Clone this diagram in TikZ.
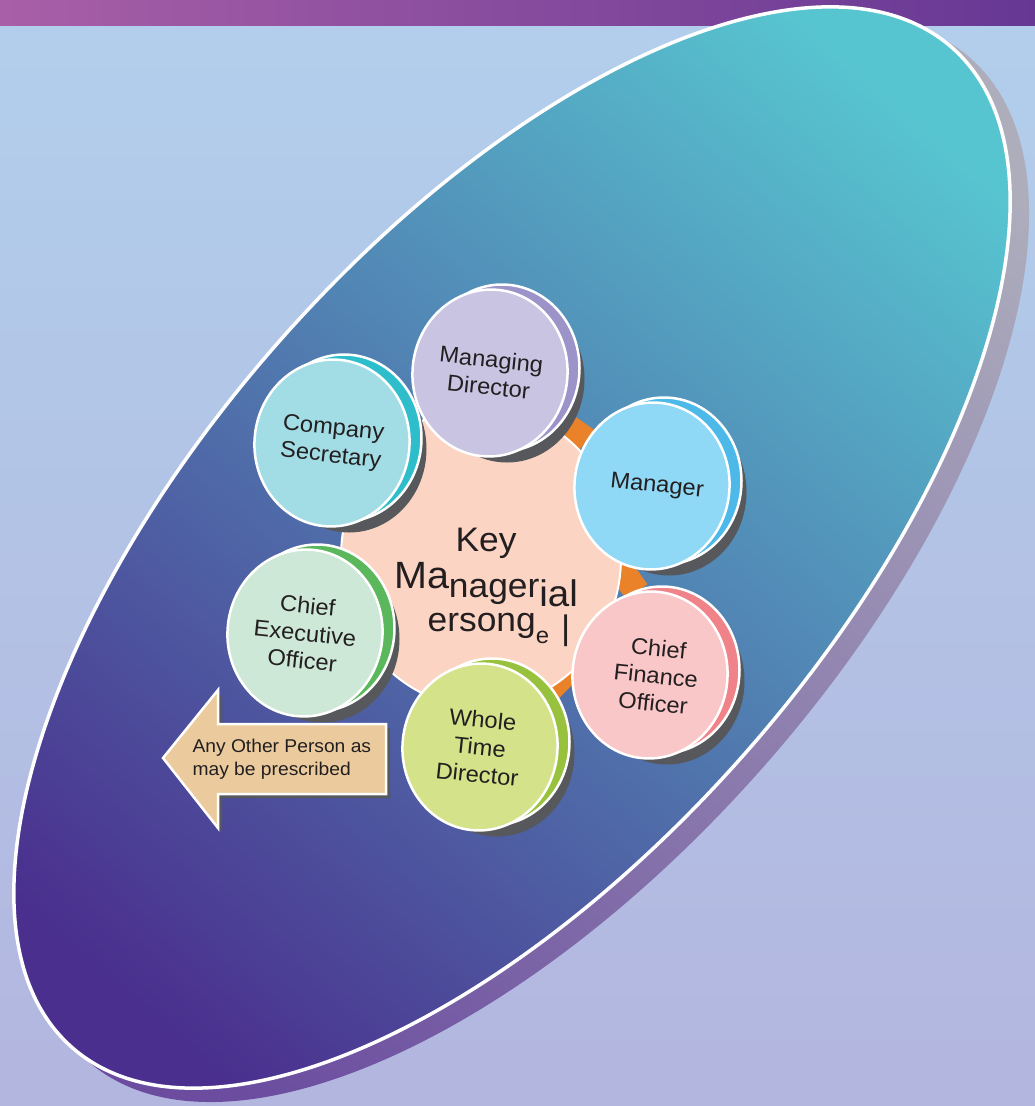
\documentclass[tikz,border=0pt]{standalone}
\usepackage{fontspec}
\setmainfont{Liberation Sans}[FakeStretch=1.04]
\usetikzlibrary{shapes.geometric}
\pgfdeclarelayer{back}
\pgfdeclarelayer{links}
\pgfdeclarelayer{hubl}
\pgfsetlayers{back,links,hubl,main}
\definecolor{bgtop}{HTML}{B2CFEC}
\definecolor{bgbot}{HTML}{B3B6DF}
\definecolor{barleft}{HTML}{A85FA7}
\definecolor{barright}{HTML}{663894}
\definecolor{disctop}{HTML}{57C5D0}
\definecolor{discmid}{HTML}{4F7CB4}
\definecolor{discbot}{HTML}{4A2F8E}
\definecolor{rimtop}{HTML}{ADADBC}
\definecolor{rimbot}{HTML}{6B4C9F}
\definecolor{ink}{HTML}{231F20}
\definecolor{ballgrey}{HTML}{56585B}
\definecolor{linkorange}{HTML}{E98228}
\definecolor{hubpink}{HTML}{FCD4C3}
\definecolor{mdfill}{HTML}{C8C4E2}
\definecolor{mdrim}{HTML}{9C93C9}
\definecolor{csfill}{HTML}{A2DCE5}
\definecolor{csrim}{HTML}{2DBDCB}
\definecolor{mgrfill}{HTML}{8FD8F6}
\definecolor{mgrrim}{HTML}{4DB9E8}
\definecolor{ceofill}{HTML}{CDE8D7}
\definecolor{ceorim}{HTML}{5AB75C}
\definecolor{cfofill}{HTML}{F9C7C8}
\definecolor{cforim}{HTML}{F08389}
\definecolor{wtdfill}{HTML}{D4E28A}
\definecolor{wtdrim}{HTML}{98C13D}
\definecolor{arrowfill}{HTML}{EBCB9E}

\begin{document}
\begin{tikzpicture}[x=1pt, y=1pt, yscale=-1,
  rim/.style={draw=white, line width=2.5pt},
  ball/.style={ellipse, rim, minimum width=155pt, minimum height=167pt, inner sep=0pt, align=center, text=ink, font=\fontsize{22.8}{27.5}\selectfont, rotate=-6},
  link/.style={linkorange, line width=26pt},
]
\useasboundingbox (0,0) rectangle (1035,1106);
\begin{pgfonlayer}{back}
\shade[top color=bgtop, bottom color=bgbot] (0,0) rectangle (1035,1106);
\shade[left color=barleft, right color=barright] (0,0) rectangle (1035,25);
\shade[top color=rimtop, bottom color=rimbot, shading angle=-41, rotate around={-48.65:(529,559.5)}] (529,559.5) ellipse [x radius=668, y radius=313];
\shadedraw[draw=white, line width=3.5pt, top color=disctop, middle color=discmid, bottom color=discbot, shading angle=-41, rotate around={-48.65:(512,547.5)}] (512,547.5) ellipse [x radius=666, y radius=311];
\end{pgfonlayer}
%Balls
\foreach \bx/\by/\brim in {332/443/csrim, 490/373/mdrim, 652/486/mgrrim, 650/675/cforim, 480/747/wtdrim, 305/633/ceorim}{
  \fill[ballgrey] (\bx+17,\by+6) ellipse [x radius=77.5, y radius=83.5];
  \draw[rim, fill=\brim] (\bx+12,\by-5) ellipse [x radius=77.5, y radius=83.5];
}
\node[ball, fill=csfill] (cs) at (332,443) {Company\\Secretary};
\node[ball, fill=mdfill] (md) at (490,373) {Managing\\Director};
\node[ball, fill=mgrfill] (mgr) at (652,486) {\hspace*{10pt}Manager};
\node[ball, fill=cfofill] (cfo) at (650,675) {\hspace*{12pt}Chief\\\hspace*{12pt}Finance\\\hspace*{12pt}Officer};
\node[ball, fill=wtdfill] (wtd) at (480,747) {Whole\\Time\\Director};
\node[ball, fill=ceofill] (ceo) at (305,633) {Chief\\Executive\\Officer};
%Hub
\begin{pgfonlayer}{hubl}
\node[ellipse, draw=white, line width=2pt, fill=hubpink, minimum width=280pt, minimum height=300pt] (hub) at (481,557) {};
\node[text=ink, font=\fontsize{34}{40}\selectfont, align=center] (kmp) at (486,583) {Key\\[-3pt]
  {\fontsize{38}{40}\selectfont Ma}\smash{\raisebox{-9pt}{nager}}\smash{\raisebox{-18pt}{\fontsize{37}{40}\selectfont ial}}\\[3pt]
  \hspace*{26pt}ersong\smash{\raisebox{-12pt}{\fontsize{23}{23}\selectfont e}}\hspace{12pt}\smash{\raisebox{-8pt}{|}}};
\end{pgfonlayer}
%Links
\begin{pgfonlayer}{links}
\draw[link] (md) -- (mgr);
\draw[link] (mgr.250) -- (cfo.105);
\draw[link] (wtd.45) -- (cfo.180);
\end{pgfonlayer}
%Arrow
\fill[ballgrey, shift={(4,4)}] (163,758) -- (218,690) -- (218,724) -- (386,724) -- (386,794) -- (218,794) -- (218,828) -- cycle;
\draw[rim, fill=arrowfill] (163,758) -- (218,690) -- (218,724) -- (386,724) -- (386,794) -- (218,794) -- (218,828) -- cycle;
\node[anchor=west, align=left, text=ink, font=\fontsize{18.5}{22.5}\selectfont] (other) at (189,759) {Any Other Person as\\may be prescribed};
\end{tikzpicture}
\end{document}
